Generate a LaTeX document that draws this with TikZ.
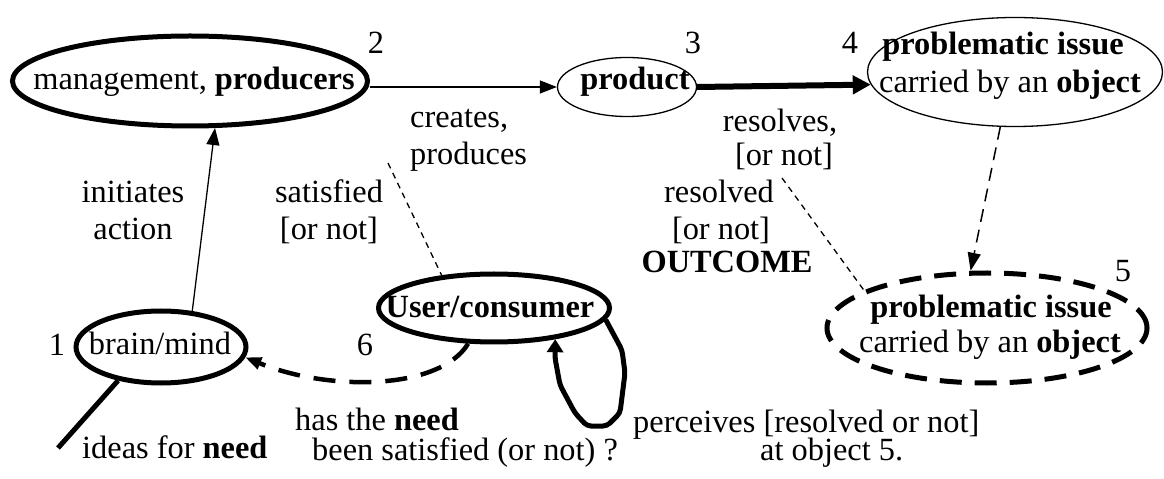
\documentclass[tikz,border=0pt]{standalone}
\usepackage{fontspec}
\setmainfont{Liberation Serif}
\usetikzlibrary{shapes.geometric,arrows.meta}
\begin{document}
\begin{tikzpicture}[x=1bp,y=-1bp,
  font=\fontsize{32.5}{37}\selectfont,
  ell/.style={ellipse, draw, inner sep=0pt},
  thickell/.style={ell, line width=5bp},
  thinell/.style={ell, line width=1.3bp},
  lbl/.style={anchor=base, inner sep=0pt},
  thinarrow/.style={line width=1.3bp, -{Triangle[length=17bp,width=13bp]}},
  fatarrow/.style={line width=6bp, -{Triangle[length=18bp,width=18bp]}},
  finedash/.style={line width=1.3bp, dash pattern=on 6bp off 5bp},
  meddash/.style={line width=1.5bp, dash pattern=on 13bp off 8bp},
  bigdash/.style={line width=4.5bp, dash pattern=on 22bp off 14bp}
]
\useasboundingbox (0,0) rectangle (1164,479);

% ellipses
\node[thickell, minimum width=355bp, minimum height=90bp] (mgmt) at (190,81) {};
\node[thinell, minimum width=139bp, minimum height=59bp] (product) at (627,87) {};
\node[thinell, minimum width=295bp, minimum height=109bp] (e4) at (1015,72) {};
\node[ell, line width=5bp, dash pattern=on 22bp off 13bp, minimum width=320bp, minimum height=110bp] (e5) at (987,328) {};
\node[thickell, minimum width=231bp, minimum height=68bp] (user) at (494,308) {};
\node[thickell, minimum width=170bp, minimum height=72bp] (brain) at (161,347) {};

% texts inside ellipses
\node[lbl] (mgmtt) at (194,90) {management, \textbf{producers}};
\node[lbl] (productt) at (635,90) {\textbf{product}};
\node[lbl] (e4a) at (1003,55) {\textbf{problematic issue}};
\node[lbl] (e4b) at (1010,93) {carried by an \textbf{object}};
\node[lbl] (e5a) at (991,318) {\textbf{problematic issue}};
\node[lbl] (e5b) at (990,353) {carried by an \textbf{object}};
\node[lbl] (usert) at (490,318) {\textbf{User/consumer}};
\node[lbl] (braint) at (160,355) {brain/mind};

% numbers
\node[lbl] (n1) at (57,356) {1};
\node[lbl] (n2) at (376,54) {2};
\node[lbl] (n3) at (693,54) {3};
\node[lbl] (n4) at (850,54) {4};
\node[lbl] (n5) at (1123,282) {5};
\node[lbl] (n6) at (365,356) {6};

% labels
\node[lbl] (t1a) at (133,203) {initiates};
\node[lbl] (t1b) at (133,240) {action};
\node[lbl] (t2a) at (329,203) {satisfied};
\node[lbl] (t2b) at (329,240) {[or not]};
\node[lbl, anchor=base west] (t3a) at (410,128) {creates,};
\node[lbl, anchor=base west] (t3b) at (410,165) {produces};
\node[lbl] (t4a) at (780,132) {resolves,};
\node[lbl] (t4b) at (784,166) {[or not]};
\node[lbl] (t5a) at (719,203) {resolved};
\node[lbl] (t5b) at (721,240) {[or not]};
\node[lbl] (t5c) at (727,273) {\textbf{OUTCOME}};
\node[lbl, anchor=base west] (t6) at (82,458) {ideas for \textbf{need}};
\node[lbl, anchor=base west] (t7a) at (295,430) {has the \textbf{need}};
\node[lbl, anchor=base west] (t7b) at (312,460) {been satisfied (or not) ?};
\node[lbl, anchor=base west] (t8a) at (633,432) {perceives [resolved or not]};
\node[lbl, anchor=base west] (t8b) at (760,460) {at object 5.};

% free ends
\coordinate (ideaend) at (58,448);
\coordinate (satstart) at (388,163);
\coordinate (resstart) at (782,178);

% connectors
\draw[thinarrow] (brain.49) -- (mgmt.-62);
\draw[thinarrow] (product.west -| mgmt.east) -- (product.west);
\draw[fatarrow] (product.east) -- (e4.185);
\draw[meddash, -{Triangle[length=18bp,width=13bp]}] (e4.-105) -- (e5.106);
\draw[finedash] (resstart) -- (e5.163);
\draw[finedash] (satstart) -- (user.148);
\draw[line width=5bp] (brain.218) -- (ideaend);
\draw[bigdash, -{Triangle[length=16bp,width=12bp]}] (user.234) .. controls (440,390) and (330,392) .. (brain.-7);
\draw[line width=5bp, rounded corners=4bp, -{Triangle[length=13bp,width=16bp]}]
  (user.-6) -- (622,350) -- (625,373) -- (620,413) -- (607,426) -- (587,426)
  -- (575,413) -- (560,385) -- (555,358) -- (user.-27);
\end{tikzpicture}
\end{document}
